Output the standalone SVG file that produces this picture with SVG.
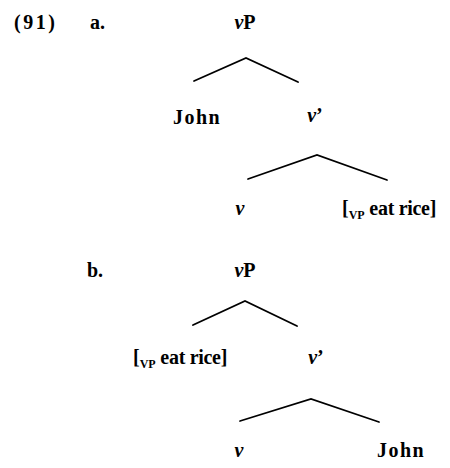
<svg xmlns="http://www.w3.org/2000/svg" width="450" height="468" viewBox="0 0 450 468">
<style>
text{font-family:"Liberation Serif","Times New Roman",serif;font-size:20px;font-weight:bold;fill:#000}
.i{font-style:italic}
.sub{font-size:12px}
.wide{letter-spacing:1.5px}
.br{fill:none;stroke:#000;stroke-width:1.8;stroke-linecap:round;stroke-linejoin:miter}
</style>
<rect width="450" height="468" fill="#fff"/>
<g id="labels">
<text x="14" y="29" letter-spacing="2.5">(91)</text>
<text x="90" y="29">a.</text>
<text x="87" y="277">b.</text>
</g>
<g id="a-vP"><text x="245" y="29" text-anchor="middle"><tspan class="i">v</tspan>P</text></g>
<g id="a-John"><text x="173" y="124" class="wide">John</text></g>
<g id="a-vbar"><text x="315" y="122" text-anchor="middle"><tspan class="i">v</tspan>’</text></g>
<g id="a-v"><text x="240" y="215" text-anchor="middle" class="i">v</text></g>
<g id="a-VP"><text x="342" y="215">[<tspan class="sub" dy="4">VP</tspan><tspan dy="-4" letter-spacing="-0.3"> eat rice]</tspan></text></g>
<g id="b-vP"><text x="245" y="277" text-anchor="middle"><tspan class="i">v</tspan>P</text></g>
<g id="b-VP"><text x="133" y="364">[<tspan class="sub" dy="4">VP</tspan><tspan dy="-4" letter-spacing="-0.3"> eat rice]</tspan></text></g>
<g id="b-vbar"><text x="316" y="364" text-anchor="middle"><tspan class="i">v</tspan>’</text></g>
<g id="b-v"><text x="239" y="457" text-anchor="middle" class="i">v</text></g>
<g id="b-John"><text x="377" y="457" class="wide">John</text></g>
<g id="connectors">
<polyline class="br" points="194,81 246,58 298,82"/>
<polyline class="br" points="248,179 317,155 387,180"/>
<polyline class="br" points="193,325 245,301 297,326"/>
<polyline class="br" points="240,421 311,399 379,422"/>
</g>
</svg>
